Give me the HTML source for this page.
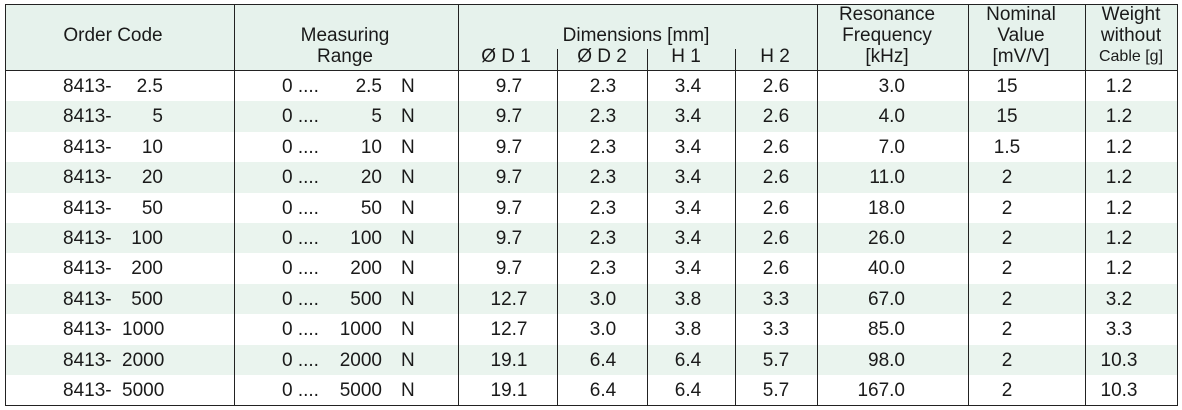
<!DOCTYPE html>
<html><head><meta charset="utf-8"><style>
body{margin:0;width:1182px;height:410px;background:#fff;font-family:"Liberation Sans",sans-serif;color:#1a1a1a;overflow:hidden;position:relative}
.a{position:absolute}
.t{position:absolute;font-size:19px;line-height:20px;white-space:nowrap}
.c{transform:translateX(-50%)}
.r{transform:translateX(-100%)}
.row{position:absolute;left:5px;width:1172px;height:30.4px}
.row .t{top:6px}
.g{background:#eaf4ee}
.vl{position:absolute;width:1px;background:#222}
</style></head><body>
<div class="a" style="left:5px;top:4px;width:1172px;height:66px;background:#e6f2ec"></div>
<div class="row" style="top:71px"></div>
<div class="row g" style="top:101.4px"></div>
<div class="row" style="top:131.8px"></div>
<div class="row g" style="top:162.2px"></div>
<div class="row" style="top:192.6px"></div>
<div class="row g" style="top:223px"></div>
<div class="row" style="top:253.4px"></div>
<div class="row g" style="top:283.8px"></div>
<div class="row" style="top:314.2px"></div>
<div class="row g" style="top:344.6px"></div>
<div class="row" style="top:375px"></div>
<div class="a" style="left:5px;top:4px;width:1171px;height:400px;border:1px solid #222"></div>
<div class="a" style="left:5px;top:70px;width:1172px;height:1px;background:#222"></div>
<div class="vl" style="left:234px;top:4px;height:401px"></div>
<div class="vl" style="left:458px;top:4px;height:401px"></div>
<div class="vl" style="left:817px;top:4px;height:401px"></div>
<div class="vl" style="left:968px;top:4px;height:401px"></div>
<div class="vl" style="left:1085px;top:4px;height:401px"></div>
<div class="vl" style="left:557px;top:49px;height:356px"></div>
<div class="vl" style="left:647px;top:49px;height:356px"></div>
<div class="vl" style="left:735px;top:49px;height:356px"></div>
<div class="t c" style="left:113px;top:26px">Order Code</div>
<div class="t c" style="left:345px;top:26px">Measuring</div>
<div class="t c" style="left:345px;top:47px">Range</div>
<div class="t c" style="left:636px;top:26px">Dimensions [mm]</div>
<div class="t c" style="left:506px;top:47px">Ø D 1</div>
<div class="t c" style="left:602px;top:47px">Ø D 2</div>
<div class="t c" style="left:686px;top:47px">H 1</div>
<div class="t c" style="left:775px;top:47px">H 2</div>
<div class="t c" style="left:887px;top:5px">Resonance</div>
<div class="t c" style="left:887px;top:26px">Frequency</div>
<div class="t c" style="left:887px;top:47px">[kHz]</div>
<div class="t c" style="left:1021px;top:5px">Nominal</div>
<div class="t c" style="left:1021px;top:26px">Value</div>
<div class="t c" style="left:1021px;top:47px">[mV/V]</div>
<div class="t c" style="left:1131px;top:5px">Weight</div>
<div class="t c" style="left:1131px;top:26px">without</div>
<div class="t c" style="left:1131px;top:47px;font-size:16px">Cable [g]</div>
<div style="position:absolute;left:0;top:71px">
<div class="row" style="top:0;left:0"><span class="t" style="left:63px">8413-</span><span class="t r" style="left:163px">2.5</span><span class="t" style="left:282px">0 ....</span><span class="t r" style="left:382px">2.5</span><span class="t" style="left:401px">N</span><span class="t c" style="left:509px">9.7</span><span class="t c" style="left:603px">2.3</span><span class="t c" style="left:688px">3.4</span><span class="t c" style="left:776px">2.6</span><span class="t r" style="left:905px">3.0</span><span class="t c" style="left:1007px">15</span><span class="t c" style="left:1119px">1.2</span></div>
<div class="row" style="top:30.4px;left:0"><span class="t" style="left:63px">8413-</span><span class="t r" style="left:163px">5</span><span class="t" style="left:282px">0 ....</span><span class="t r" style="left:382px">5</span><span class="t" style="left:401px">N</span><span class="t c" style="left:509px">9.7</span><span class="t c" style="left:603px">2.3</span><span class="t c" style="left:688px">3.4</span><span class="t c" style="left:776px">2.6</span><span class="t r" style="left:905px">4.0</span><span class="t c" style="left:1007px">15</span><span class="t c" style="left:1119px">1.2</span></div>
<div class="row" style="top:60.8px;left:0"><span class="t" style="left:63px">8413-</span><span class="t r" style="left:163px">10</span><span class="t" style="left:282px">0 ....</span><span class="t r" style="left:382px">10</span><span class="t" style="left:401px">N</span><span class="t c" style="left:509px">9.7</span><span class="t c" style="left:603px">2.3</span><span class="t c" style="left:688px">3.4</span><span class="t c" style="left:776px">2.6</span><span class="t r" style="left:905px">7.0</span><span class="t c" style="left:1007px">1.5</span><span class="t c" style="left:1119px">1.2</span></div>
<div class="row" style="top:91.2px;left:0"><span class="t" style="left:63px">8413-</span><span class="t r" style="left:163px">20</span><span class="t" style="left:282px">0 ....</span><span class="t r" style="left:382px">20</span><span class="t" style="left:401px">N</span><span class="t c" style="left:509px">9.7</span><span class="t c" style="left:603px">2.3</span><span class="t c" style="left:688px">3.4</span><span class="t c" style="left:776px">2.6</span><span class="t r" style="left:905px">11.0</span><span class="t c" style="left:1007px">2</span><span class="t c" style="left:1119px">1.2</span></div>
<div class="row" style="top:121.6px;left:0"><span class="t" style="left:63px">8413-</span><span class="t r" style="left:163px">50</span><span class="t" style="left:282px">0 ....</span><span class="t r" style="left:382px">50</span><span class="t" style="left:401px">N</span><span class="t c" style="left:509px">9.7</span><span class="t c" style="left:603px">2.3</span><span class="t c" style="left:688px">3.4</span><span class="t c" style="left:776px">2.6</span><span class="t r" style="left:905px">18.0</span><span class="t c" style="left:1007px">2</span><span class="t c" style="left:1119px">1.2</span></div>
<div class="row" style="top:152px;left:0"><span class="t" style="left:63px">8413-</span><span class="t r" style="left:163px">100</span><span class="t" style="left:282px">0 ....</span><span class="t r" style="left:382px">100</span><span class="t" style="left:401px">N</span><span class="t c" style="left:509px">9.7</span><span class="t c" style="left:603px">2.3</span><span class="t c" style="left:688px">3.4</span><span class="t c" style="left:776px">2.6</span><span class="t r" style="left:905px">26.0</span><span class="t c" style="left:1007px">2</span><span class="t c" style="left:1119px">1.2</span></div>
<div class="row" style="top:182.4px;left:0"><span class="t" style="left:63px">8413-</span><span class="t r" style="left:163px">200</span><span class="t" style="left:282px">0 ....</span><span class="t r" style="left:382px">200</span><span class="t" style="left:401px">N</span><span class="t c" style="left:509px">9.7</span><span class="t c" style="left:603px">2.3</span><span class="t c" style="left:688px">3.4</span><span class="t c" style="left:776px">2.6</span><span class="t r" style="left:905px">40.0</span><span class="t c" style="left:1007px">2</span><span class="t c" style="left:1119px">1.2</span></div>
<div class="row" style="top:212.8px;left:0"><span class="t" style="left:63px">8413-</span><span class="t r" style="left:163px">500</span><span class="t" style="left:282px">0 ....</span><span class="t r" style="left:382px">500</span><span class="t" style="left:401px">N</span><span class="t c" style="left:509px">12.7</span><span class="t c" style="left:603px">3.0</span><span class="t c" style="left:688px">3.8</span><span class="t c" style="left:776px">3.3</span><span class="t r" style="left:905px">67.0</span><span class="t c" style="left:1007px">2</span><span class="t c" style="left:1119px">3.2</span></div>
<div class="row" style="top:243.2px;left:0"><span class="t" style="left:63px">8413-</span><span class="t" style="left:122px">1000</span><span class="t" style="left:282px">0 ....</span><span class="t r" style="left:382px">1000</span><span class="t" style="left:401px">N</span><span class="t c" style="left:509px">12.7</span><span class="t c" style="left:603px">3.0</span><span class="t c" style="left:688px">3.8</span><span class="t c" style="left:776px">3.3</span><span class="t r" style="left:905px">85.0</span><span class="t c" style="left:1007px">2</span><span class="t c" style="left:1119px">3.3</span></div>
<div class="row" style="top:273.6px;left:0"><span class="t" style="left:63px">8413-</span><span class="t" style="left:122px">2000</span><span class="t" style="left:282px">0 ....</span><span class="t r" style="left:382px">2000</span><span class="t" style="left:401px">N</span><span class="t c" style="left:509px">19.1</span><span class="t c" style="left:603px">6.4</span><span class="t c" style="left:688px">6.4</span><span class="t c" style="left:776px">5.7</span><span class="t r" style="left:905px">98.0</span><span class="t c" style="left:1007px">2</span><span class="t c" style="left:1119px">10.3</span></div>
<div class="row" style="top:304px;left:0"><span class="t" style="left:63px">8413-</span><span class="t" style="left:122px">5000</span><span class="t" style="left:282px">0 ....</span><span class="t r" style="left:382px">5000</span><span class="t" style="left:401px">N</span><span class="t c" style="left:509px">19.1</span><span class="t c" style="left:603px">6.4</span><span class="t c" style="left:688px">6.4</span><span class="t c" style="left:776px">5.7</span><span class="t r" style="left:905px">167.0</span><span class="t c" style="left:1007px">2</span><span class="t c" style="left:1119px">10.3</span></div>
</div>
</body></html>
